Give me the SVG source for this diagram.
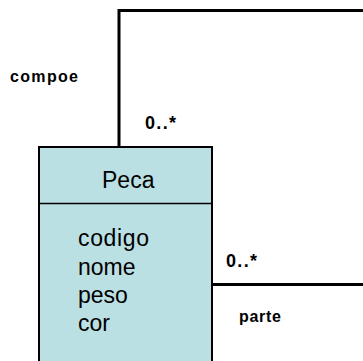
<svg xmlns="http://www.w3.org/2000/svg" width="363" height="361" viewBox="0 0 363 361">
<style>
.lbl{font-family:"Liberation Sans",Arial,sans-serif;font-weight:bold;fill:#000}
.cls{font-family:"Liberation Sans",Arial,sans-serif;fill:#000}
.conn{fill:none;stroke:#000;stroke-width:3}
</style>
<rect width="363" height="361" fill="#fff"/>
<g id="connectors">
<polyline class="conn" points="119,147 119,10.5 363,10.5"/>
<line class="conn" x1="212" y1="284.5" x2="363" y2="284.5"/>
<text class="lbl" x="10" y="82" font-size="16" textLength="68">compoe</text>
<text class="lbl" x="145" y="129" font-size="18" textLength="31">0..*</text>
<text class="lbl" x="226" y="267" font-size="18" textLength="31">0..*</text>
<text class="lbl" x="239" y="322" font-size="16" textLength="42">parte</text>
</g>
<g id="Peca">
<rect x="39" y="147" width="173" height="222" fill="#BBE0E3" stroke="#000" stroke-width="2"/>
<line x1="39" y1="203.5" x2="212" y2="203.5" stroke="#000" stroke-width="1.5"/>
<text class="cls" x="102" y="188" font-size="23">Peca</text>
<text class="cls" x="78" y="246" font-size="23" textLength="71">codigo</text>
<text class="cls" x="78" y="274.5" font-size="23">nome</text>
<text class="cls" x="78" y="303" font-size="23">peso</text>
<text class="cls" x="78" y="331" font-size="23">cor</text>
</g>
</svg>
